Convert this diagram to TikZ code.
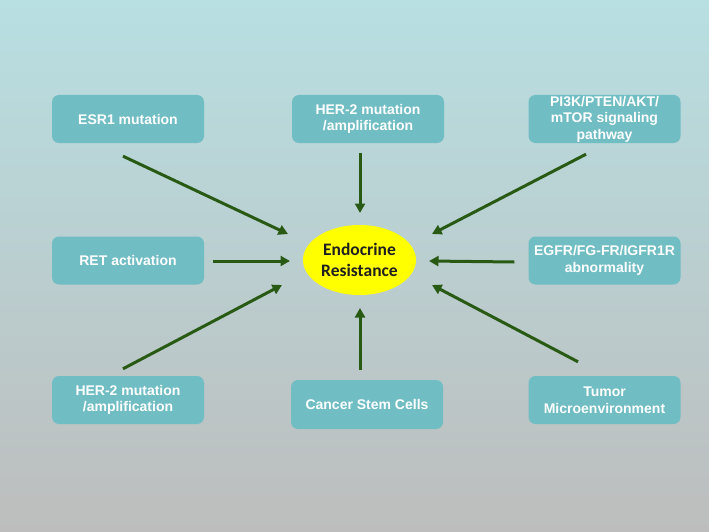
\documentclass[tikz,border=0pt]{standalone}
\usepackage{fontspec}
\setmainfont{Liberation Sans}
\newfontfamily\calibrifont{Carlito}
\usetikzlibrary{arrows.meta,shapes.geometric}
\definecolor{boxteal}{HTML}{70BDC4}
\definecolor{pushgreen}{HTML}{285A14}
\definecolor{bgtop}{HTML}{B8DFE2}
\definecolor{bgbottom}{HTML}{BDBDBD}
\definecolor{coreyellow}{HTML}{FFFF00}
\begin{document}
\begin{tikzpicture}[x=1pt,y=-1pt,factor/.style={fill=boxteal,rounded corners=7pt,minimum width=152pt,minimum height=48pt,inner sep=1pt,align=center,text=white,font=\bfseries\fontsize{14}{16.5}\selectfont},core/.style={ellipse,fill=coreyellow,minimum width=113pt,minimum height=70pt,inner sep=0pt,align=center,text=black!88,font=\calibrifont\bfseries\fontsize{17.5}{21}\selectfont},push/.style={draw=pushgreen,line width=3pt,-{Triangle[length=9.5pt,width=10pt]}}]
	\useasboundingbox (0,0) rectangle (709,532);
	\shade[top color=bgtop,bottom color=bgbottom] (0,0) rectangle (709,532);
	\node[core] (endo) at (359.5,260) {Endocrine\\Resistance};
	\node[factor] (esr) at (128,119) {ESR1 mutation};
	\node[factor] (her) at (368,119) {HER-2 mutation\\/amplification};
	\node[factor] (pik) at (604.5,119) {PI3K/PTEN/AKT/\\mTOR signaling\\pathway};
	\node[factor] (ret) at (128,260.5) {RET activation};
	\node[factor] (egfr) at (604.5,260.5) {EGFR/FG-FR/IGFR1R\\abnormality};
	\node[factor] (herb) at (128,400) {HER-2 mutation\\/amplification};
	\node[factor,minimum height=49pt] (csc) at (367,404.5) {Cancer Stem Cells};
	\node[factor] (tum) at (604.5,400) {Tumor\\Microenvironment};
	\draw[push] ([shift={(-5,13)}]esr.south) -- ([shift={(-71.5,-26)}]endo.center);
	\draw[push] ([shift={(-8,10)}]her.south) -- ([shift={(0.5,-47)}]endo.center);
	\draw[push] ([shift={(-18.5,11)}]pik.south) -- ([shift={(72.5,-26)}]endo.center);
	\draw[push] ([shift={(9,0.5)}]ret.east) -- ([shift={(-69.5,1)}]endo.center);
	\draw[push] ([shift={(-14,1.5)}]egfr.west) -- ([shift={(69.5,1)}]endo.center);
	\draw[push] ([shift={(-5,-7)}]herb.north) -- ([shift={(-77.5,25)}]endo.center);
	\draw[push] ([shift={(-7,-10)}]csc.north) -- ([shift={(0.5,48)}]endo.center);
	\draw[push] ([shift={(-26.5,-14)}]tum.north) -- ([shift={(72.5,25)}]endo.center);
\end{tikzpicture}
\end{document}
